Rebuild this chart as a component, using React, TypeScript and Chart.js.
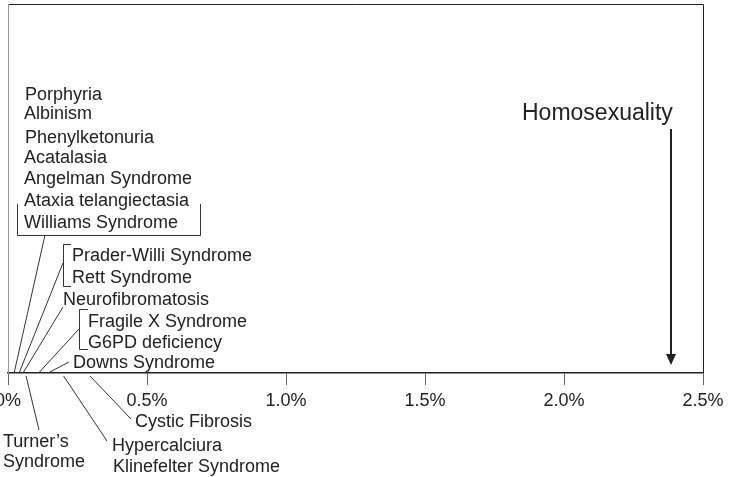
import React, { useEffect, useRef } from 'react';
import { Chart, registerables } from 'chart.js';

Chart.register(...registerables);

// ---- data ----
const tickValues = [0, 0.5, 1.0, 1.5, 2.0, 2.5];
const tickLabels = ['0%', '0.5%', '1.0%', '1.5%', '2.0%', '2.5%'];

const listNames = ['Porphyria', 'Albinism', 'Phenylketonuria', 'Acatalasia', 'Angelman Syndrome'];
const pointerNames = [
  ['Ataxia telangiectasia', 'Williams Syndrome'],
  ['Prader-Willi Syndrome', 'Rett Syndrome'],
  ['Neurofibromatosis'],
  ['Fragile X Syndrome', 'G6PD deficiency'],
  ['Downs Syndrome'],
  ['Turner\u2019s', 'Syndrome'],
  ['Hypercalciura', 'Klinefelter Syndrome'],
  ['Cystic Fibrosis'],
];
const pointerValues = [0.022, 0.04, 0.054, 0.11, 0.144, 0.065, 0.2, 0.295];
const highlightName = 'Homosexuality';
const highlightValue = 2.385;

const FONT = '"Liberation Sans", Arial, sans-serif';

// ---- layout of annotations (pixels) ----
const listLayout = [
  [25, 100], [24, 119], [25, 143], [24, 163], [24, 184],
];
// per pointer: text lines positions, anchor point of leader line, side
const pointerLayout = [
  { text: [[24, 206], [24, 228]], anchor: [45, 235], below: false },
  { text: [[72, 261], [72, 283]], anchor: [63, 263], below: false },
  { text: [[63, 305]], anchor: [63, 307], below: false },
  { text: [[88, 327], [88, 348]], anchor: [79, 329], below: false },
  { text: [[73, 368]], anchor: [69, 362], below: false },
  { text: [[3, 447], [3, 467]], anchor: [39, 430], below: true },
  { text: [[112, 451], [113, 472]], anchor: [107, 441], below: true },
  { text: [[135, 427]], anchor: [131, 419], below: true },
];

const annotationPlugin = {
  id: 'annotations',
  afterDraw(chart: any) {
    const ctx = chart.ctx;
    const area = chart.chartArea;
    const xs = chart.scales.x;
    ctx.save();
    // frame
    ctx.lineWidth = 1;
    ctx.strokeStyle = '#222';
    ctx.beginPath();
    ctx.moveTo(area.left, area.top + 0.5);
    ctx.lineTo(area.right + 0.5, area.top + 0.5);
    ctx.lineTo(area.right + 0.5, area.bottom);
    ctx.stroke();
    ctx.strokeStyle = '#999';
    ctx.beginPath();
    ctx.moveTo(area.left + 0.5, area.top);
    ctx.lineTo(area.left + 0.5, area.bottom);
    ctx.stroke();

    ctx.fillStyle = '#222';
    ctx.font = '18px ' + FONT;
    ctx.textBaseline = 'alphabetic';
    ctx.textAlign = 'left';
    listNames.forEach((n, i) => {
      ctx.fillText(n, listLayout[i][0], listLayout[i][1]);
    });

    // brackets
    ctx.strokeStyle = '#333';
    ctx.lineWidth = 1;
    ctx.beginPath();
    ctx.moveTo(17.5, 204); ctx.lineTo(17.5, 235.5); ctx.lineTo(200.5, 235.5); ctx.lineTo(200.5, 204);
    ctx.moveTo(71, 244.5); ctx.lineTo(63.5, 244.5); ctx.lineTo(63.5, 286.5); ctx.lineTo(71, 286.5);
    ctx.moveTo(88, 309.5); ctx.lineTo(79.5, 309.5); ctx.lineTo(79.5, 349.5); ctx.lineTo(88, 349.5);
    ctx.stroke();

    const meta = chart.getDatasetMeta(0);
    pointerNames.forEach((names, i) => {
      const lay = pointerLayout[i];
      names.forEach((n, j) => ctx.fillText(n, lay.text[j][0], lay.text[j][1]));
      const el = meta.data[i];
      const px = el.x;
      const py = lay.below ? area.bottom + 3 : area.bottom;
      ctx.beginPath();
      ctx.moveTo(px, py);
      ctx.lineTo(lay.anchor[0], lay.anchor[1]);
      ctx.stroke();
    });

    // highlight arrow
    const ax = Math.round(xs.getPixelForValue(highlightValue));
    ctx.font = '23px ' + FONT;
    ctx.fillText(highlightName, 522, 120);
    ctx.strokeStyle = '#222';
    ctx.lineWidth = 2;
    ctx.beginPath();
    ctx.moveTo(ax, 129);
    ctx.lineTo(ax, 356);
    ctx.stroke();
    ctx.beginPath();
    ctx.moveTo(ax - 5, 354);
    ctx.lineTo(ax + 5, 354);
    ctx.lineTo(ax, 365);
    ctx.closePath();
    ctx.fill();
    ctx.restore();
  },
};

export default function App() {
  const ref = useRef<HTMLCanvasElement>(null);
  useEffect(() => {
    if (!ref.current) return;
    const chart = new Chart(ref.current, {
      type: 'scatter',
      data: {
        datasets: [
          {
            data: pointerValues.map((v) => ({ x: v, y: 0 })),
            pointRadius: 0,
            pointHoverRadius: 0,
          },
        ],
      },
      options: {
        animation: false,
        responsive: false,
        devicePixelRatio: 1,
        layout: { padding: { left: 8, top: 4, right: 30, bottom: 0 } },
        plugins: { legend: { display: false }, tooltip: { enabled: false } },
        events: [],
        scales: {
          x: {
            type: 'linear',
            min: 0,
            max: 2.5,
            afterBuildTicks: (s: any) => {
              s.ticks = tickValues.map((v) => ({ value: v }));
            },
            afterFit: (s: any) => {
              s.paddingLeft = 0;
              s.paddingRight = 0;
              s.height = 104;
            },
            border: { display: true, color: '#222', width: 1.5 },
            grid: { drawOnChartArea: false, drawTicks: true, tickLength: 12, color: '#666', lineWidth: 1 },
            ticks: {
              autoSkip: false,
              maxRotation: 0,
              padding: 5,
              color: '#222',
              font: { family: FONT, size: 18 },
              callback: (v: any) => tickLabels[tickValues.indexOf(Number(v))] ?? '',
            },
          },
          y: { display: false, min: 0, max: 1 },
        },
      },
      plugins: [annotationPlugin],
    } as any);
    return () => chart.destroy();
  }, []);
  return (
    <div style={{ position: 'absolute', left: 0, top: 0, width: 733, height: 477, background: '#fff' }}>
      <canvas ref={ref} width={733} height={477} style={{ display: 'block', width: 733, height: 477 }} />
    </div>
  );
}
